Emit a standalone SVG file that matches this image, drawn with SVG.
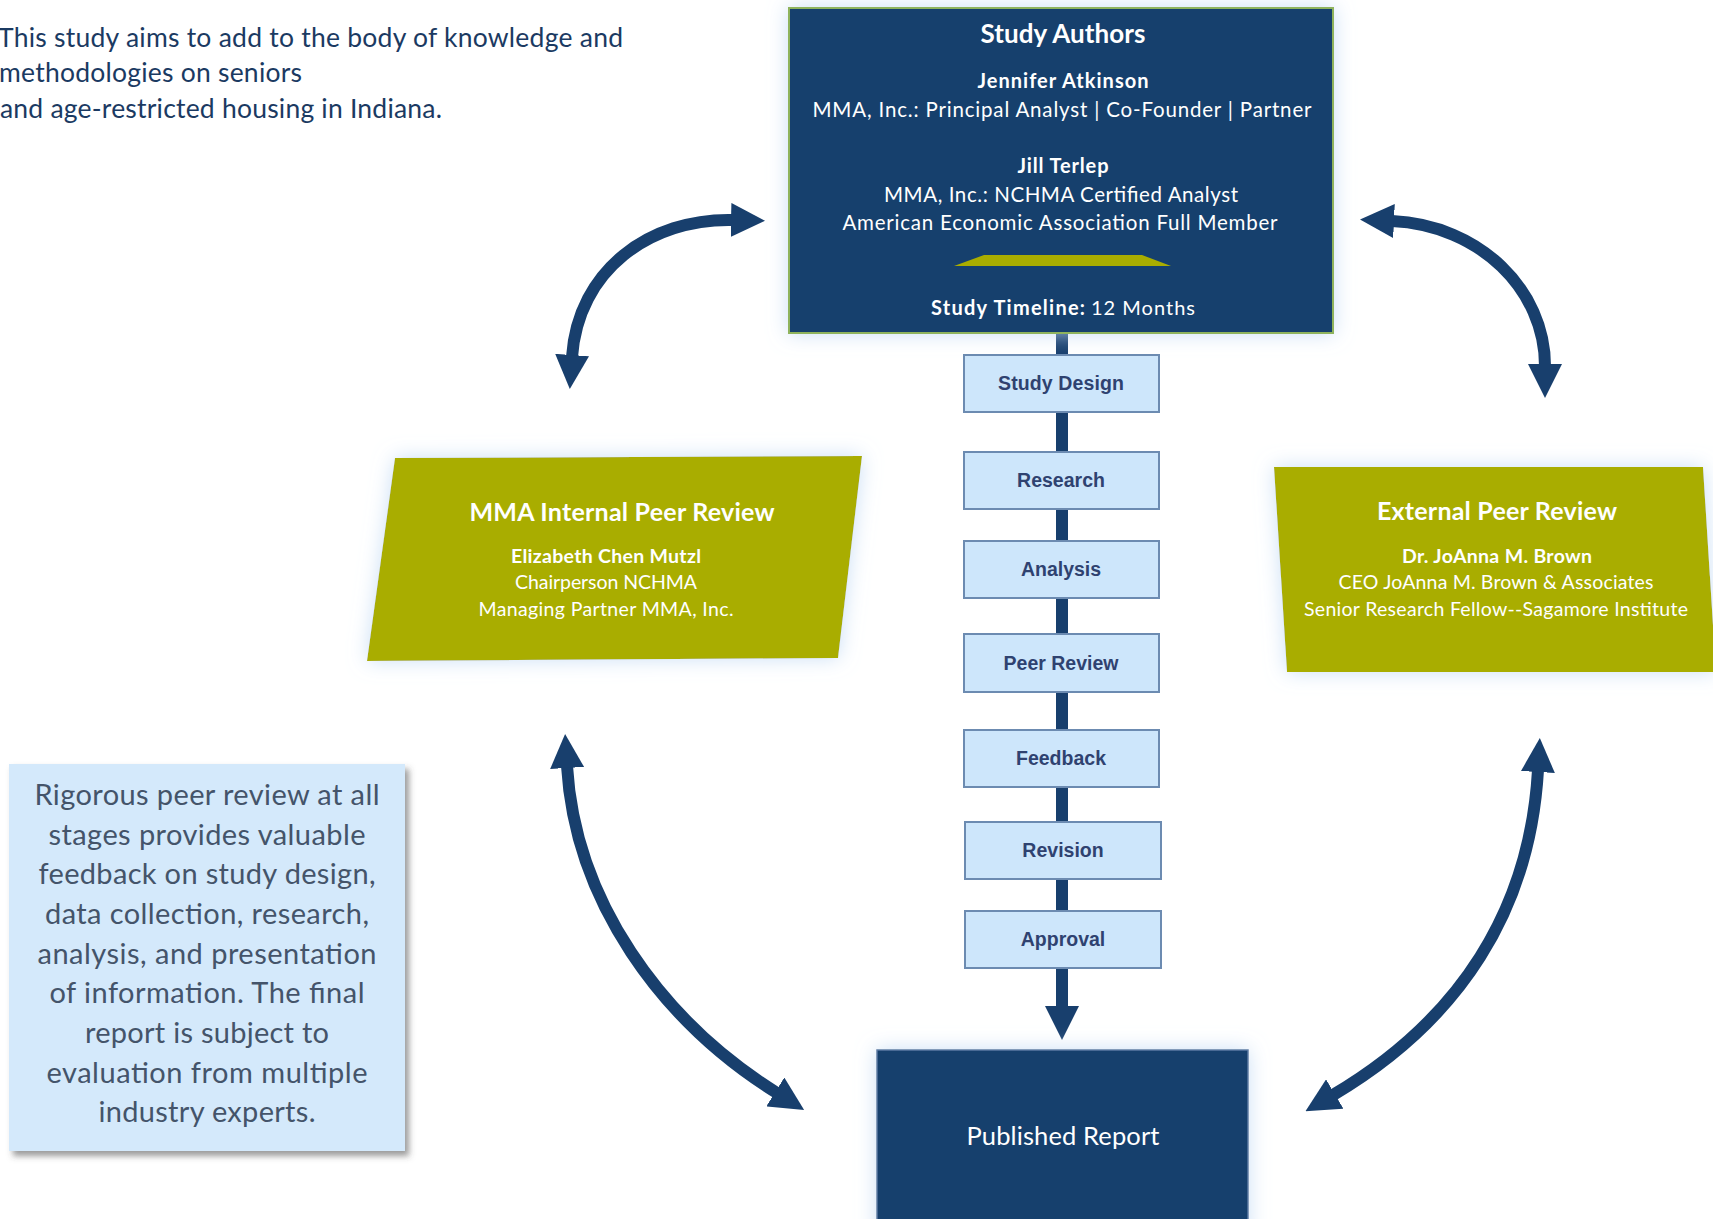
<svg xmlns="http://www.w3.org/2000/svg" width="1713" height="1219" viewBox="0 0 1713 1219">
<defs>
<style>
.f{font-family:Lato,"Open Sans","Liberation Sans",sans-serif;}
.w{fill:#ffffff;}
.b{font-weight:bold;}
.c{text-anchor:middle;}
.step rect{fill:#cde6fb;stroke:#6c8bb1;stroke-width:2;}
.step text{font-family:"Liberation Sans",Arial,sans-serif;font-weight:bold;font-size:19.5px;fill:#2f4270;text-anchor:middle;}
.para{fill:#a9ad00;}
.navy{fill:#183f6d;}
.note{font-family:Lato,"Open Sans","Liberation Sans",sans-serif;font-size:29px;fill:#44546a;text-anchor:middle;}
.intro{font-family:Lato,"Open Sans","Liberation Sans",sans-serif;font-size:26.5px;fill:#1b3a62;}
</style>
<marker id="ah" markerUnits="userSpaceOnUse" viewBox="0 0 34 34" markerWidth="34" markerHeight="34" refX="2" refY="17" orient="auto-start-reverse">
<path d="M0,0 L34,17 L0,34 Z" fill="#183f6d"/>
</marker>
<filter id="glow" x="-20%" y="-20%" width="140%" height="140%">
<feGaussianBlur in="SourceAlpha" stdDeviation="10" result="b"/>
<feFlood flood-color="#c2daf4" flood-opacity="0.85"/>
<feComposite in2="b" operator="in" result="g"/>
<feMerge><feMergeNode in="g"/><feMergeNode in="SourceGraphic"/></feMerge>
</filter>
<filter id="shadow" x="-10%" y="-10%" width="125%" height="125%">
<feDropShadow dx="4" dy="5" stdDeviation="3" flood-color="#4a4a4a" flood-opacity="0.55"/>
</filter>
</defs>
<rect width="1713" height="1219" fill="#ffffff"/>

<g id="intro-text">
<text class="intro" x="-2" y="47" textLength="625">This study aims to add to the body of knowledge and</text>
<text class="intro" x="-1" y="82" textLength="303">methodologies on seniors</text>
<text class="intro" x="0" y="118" textLength="442">and age-restricted housing in Indiana.</text>
</g>

<g id="connectors" fill="none" stroke="#183f6d" stroke-width="12">
<path d="M1062,333 V1008" marker-end="url(#ah)"/>
<path d="M572,357 C578,270 650,218 733,220" marker-start="url(#ah)" marker-end="url(#ah)"/>
<path d="M1392,221 C1480,225 1545,290 1545,366" marker-start="url(#ah)" marker-end="url(#ah)"/>
<path d="M567,766 C575,900 660,1020 777,1093" marker-start="url(#ah)" marker-end="url(#ah)"/>
<path d="M1538,770 C1530,910 1460,1020 1333,1095" marker-start="url(#ah)" marker-end="url(#ah)"/>
</g>

<g id="study-authors">
<rect x="789" y="8" width="544" height="325" class="navy" stroke="#8fb35c" stroke-width="2" filter="url(#glow)"/>
<text class="f w b c" x="1063" y="43" font-size="26" textLength="165">Study Authors</text>
<text class="f w b c" x="1063" y="88" font-size="20" textLength="171">Jennifer Atkinson</text>
<text class="f w c" x="1062" y="117" font-size="20.5" textLength="499">MMA, Inc.: Principal Analyst | Co-Founder | Partner</text>
<text class="f w b c" x="1063" y="173" font-size="20" textLength="91">Jill Terlep</text>
<text class="f w c" x="1061" y="202" font-size="20.5" textLength="354">MMA, Inc.: NCHMA Certified Analyst</text>
<text class="f w c" x="1060" y="230" font-size="20.5" textLength="435">American Economic Association Full Member</text>
<polygon points="984,255 1142,255 1171,266 954,266" fill="#a9ad00"/>
<text class="f w" y="315" font-size="20"><tspan class="b" x="931" textLength="154">Study Timeline:</tspan><tspan x="1091" textLength="104">12 Months</tspan></text>
</g>

<g id="step-study-design" class="step">
<rect x="964" y="355" width="195" height="57"/>
<text x="1061" y="390" textLength="126">Study Design</text>
</g>
<g id="step-research" class="step">
<rect x="964" y="452" width="195" height="57"/>
<text x="1061" y="487">Research</text>
</g>
<g id="step-analysis" class="step">
<rect x="964" y="541" width="195" height="57"/>
<text x="1061" y="576">Analysis</text>
</g>
<g id="step-peer-review" class="step">
<rect x="964" y="634" width="195" height="58"/>
<text x="1061" y="670">Peer Review</text>
</g>
<g id="step-feedback" class="step">
<rect x="964" y="730" width="195" height="57"/>
<text x="1061" y="765">Feedback</text>
</g>
<g id="step-revision" class="step">
<rect x="965" y="822" width="196" height="57"/>
<text x="1063" y="857">Revision</text>
</g>
<g id="step-approval" class="step">
<rect x="965" y="911" width="196" height="57"/>
<text x="1063" y="946">Approval</text>
</g>

<g id="internal-peer-review">
<polygon class="para" points="395,458 862,456 838,658 367,661" filter="url(#glow)"/>
<text class="f w b c" x="622" y="521" font-size="25" textLength="305">MMA Internal Peer Review</text>
<text class="f w b c" x="606" y="563" font-size="19.5" textLength="190">Elizabeth Chen Mutzl</text>
<text class="f w c" x="606" y="589" font-size="19.5" textLength="182">Chairperson NCHMA</text>
<text class="f w c" x="606" y="616" font-size="19.5" textLength="255">Managing Partner MMA, Inc.</text>
</g>

<g id="external-peer-review">
<polygon class="para" points="1274,467 1703,467 1716,672 1287,672" filter="url(#glow)"/>
<text class="f w b c" x="1497" y="520" font-size="25" textLength="240">External Peer Review</text>
<text class="f w b c" x="1497" y="563" font-size="19.5" textLength="190">Dr. JoAnna M. Brown</text>
<text class="f w c" x="1496" y="589" font-size="19.5" textLength="315">CEO JoAnna M. Brown &amp; Associates</text>
<text class="f w c" x="1496" y="616" font-size="19.5" textLength="384">Senior Research Fellow--Sagamore Institute</text>
</g>

<g id="published-report">
<rect x="877" y="1050" width="371" height="185" class="navy" stroke="#5b7ba3" stroke-width="1.5" filter="url(#glow)"/>
<text class="f w c" x="1063" y="1145" font-size="25.5" textLength="193">Published Report</text>
</g>

<g id="note">
<rect x="9" y="764" width="396" height="387" fill="#d4e9fb" filter="url(#shadow)"/>
<text class="note" x="207" y="805" textLength="345">Rigorous peer review at all</text>
<text class="note" x="207" y="845" textLength="317">stages provides valuable</text>
<text class="note" x="207" y="884" textLength="337">feedback on study design,</text>
<text class="note" x="207" y="924" textLength="324">data collection, research,</text>
<text class="note" x="207" y="964" textLength="339">analysis, and presentation</text>
<text class="note" x="207" y="1003" textLength="315">of information. The final</text>
<text class="note" x="207" y="1043" textLength="244">report is subject to</text>
<text class="note" x="207" y="1083" textLength="321">evaluation from multiple</text>
<text class="note" x="207" y="1122" textLength="217">industry experts.</text>
</g>
</svg>
